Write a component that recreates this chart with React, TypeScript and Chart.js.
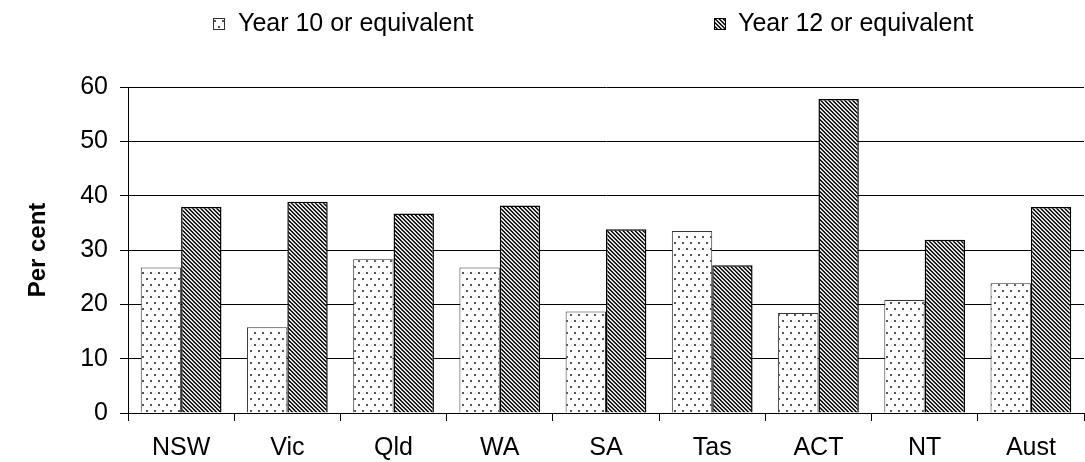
import React, { useEffect, useRef } from "react";
import { Chart, registerables } from "chart.js";

Chart.register(...registerables);

const categories = ["NSW", "Vic", "Qld", "WA", "SA", "Tas", "ACT", "NT", "Aust"];
const year10 = [26.8, 15.8, 28.3, 26.8, 18.7, 33.5, 18.4, 20.8, 23.9];
const year12 = [37.9, 38.9, 36.7, 38.2, 33.8, 27.2, 57.8, 31.9, 37.9];
const seriesLabels = ["Year 10 or equivalent", "Year 12 or equivalent"];
const yTitle = "Per cent";

const FONT = "'Liberation Sans', Arial, sans-serif";

function makeDots(): CanvasPattern | string {
  const w = 8;
  const h = 12;
  const c = document.createElement("canvas");
  c.width = w;
  c.height = h;
  const g = c.getContext("2d");
  if (!g) return "#fff";
  g.fillStyle = "#fff";
  g.fillRect(0, 0, w, h);
  g.fillStyle = "#555";
  g.fillRect(2, 2, 2, 2);
  g.fillRect(6, 8, 2, 2);
  const p = g.createPattern(c, "repeat");
  return p || "#fff";
}

function makeStripes(): CanvasPattern | string {
  const n = 4;
  const c = document.createElement("canvas");
  c.width = n;
  c.height = n;
  const g = c.getContext("2d");
  if (!g) return "#000";
  const img = g.createImageData(n, n);
  for (let y = 0; y < n; y++) {
    for (let x = 0; x < n; x++) {
      const k = (((x - y) % n) + n) % n;
      const v = k === 0 ? 0 : k === 1 ? 60 : k === 2 ? 255 : 190;
      const i = (y * n + x) * 4;
      img.data[i] = v;
      img.data[i + 1] = v;
      img.data[i + 2] = v;
      img.data[i + 3] = 255;
    }
  }
  g.putImageData(img, 0, 0);
  const p = g.createPattern(c, "repeat");
  return p || "#000";
}

export default function App() {
  const ref = useRef<HTMLCanvasElement | null>(null);

  useEffect(() => {
    document.body.style.margin = "0";
    const canvas = ref.current;
    if (!canvas) return;
    const dots = makeDots();
    const stripes = makeStripes();

    const legendPlugin = {
      id: "customLegend",
      afterDraw(chart: any) {
        const ctx = chart.ctx;
        const items = [
          { x: 213, tx: 238, fill: dots, stroke: "#333", label: seriesLabels[0] },
          { x: 714, tx: 738, fill: stripes, stroke: "#000", label: seriesLabels[1] },
        ];
        ctx.save();
        items.forEach((it) => {
          ctx.fillStyle = it.fill as any;
          ctx.fillRect(it.x, 18, 12, 12);
          ctx.strokeStyle = it.stroke;
          ctx.lineWidth = 1;
          ctx.strokeRect(it.x + 0.5, 18.5, 11, 11);
          ctx.fillStyle = "#000";
          ctx.font = `25px ${FONT}`;
          ctx.textBaseline = "middle";
          ctx.textAlign = "left";
          ctx.fillText(it.label, it.tx, 24);
        });
        ctx.restore();
      },
    };

    const chart = new Chart(canvas, {
      type: "bar",
      data: {
        labels: categories,
        datasets: [
          {
            label: seriesLabels[0],
            data: year10,
            backgroundColor: dots as any,
            borderColor: "#333",
            borderWidth: 1,
          },
          {
            label: seriesLabels[1],
            data: year12,
            backgroundColor: stripes as any,
            borderColor: "#000",
            borderWidth: 1.5,
          },
        ],
      },
      options: {
        responsive: false,
        animation: false,
        devicePixelRatio: 1,
        layout: { padding: { top: 87, left: 0, right: 1, bottom: 0 } },
        datasets: {
          bar: { categoryPercentage: 0.76, barPercentage: 1 },
        },
        plugins: {
          legend: { display: false },
          tooltip: { enabled: false },
          title: { display: false },
        },
        scales: {
          x: {
            grid: {
              display: true,
              drawOnChartArea: false,
              drawTicks: true,
              tickLength: 8,
              color: "#000",
            },
            border: { display: true, color: "#000", width: 1 },
            ticks: {
              color: "#000",
              font: { family: FONT, size: 25 },
              padding: 12,
            },
            afterFit: (s: any) => {
              s.height = 49;
            },
          },
          y: {
            min: 0,
            max: 60,
            ticks: {
              stepSize: 10,
              color: "#000",
              font: { family: FONT, size: 25 },
              padding: 12,
            },
            grid: {
              color: "#000",
              lineWidth: 1,
              drawTicks: true,
              tickLength: 8,
            },
            border: { display: true, color: "#000", width: 1 },
            title: {
              display: true,
              text: yTitle,
              color: "#000",
              font: { family: FONT, size: 24, weight: "bold" },
              padding: { top: 24, bottom: 0 },
            },
            afterFit: (s: any) => {
              s.width = 128;
            },
          },
        },
      },
      plugins: [legendPlugin],
    });

    return () => {
      chart.destroy();
    };
  }, []);

  return (
    <div style={{ width: 1085, height: 462, background: "#fff" }}>
      <canvas ref={ref} width={1085} height={462} style={{ display: "block" }} />
    </div>
  );
}
